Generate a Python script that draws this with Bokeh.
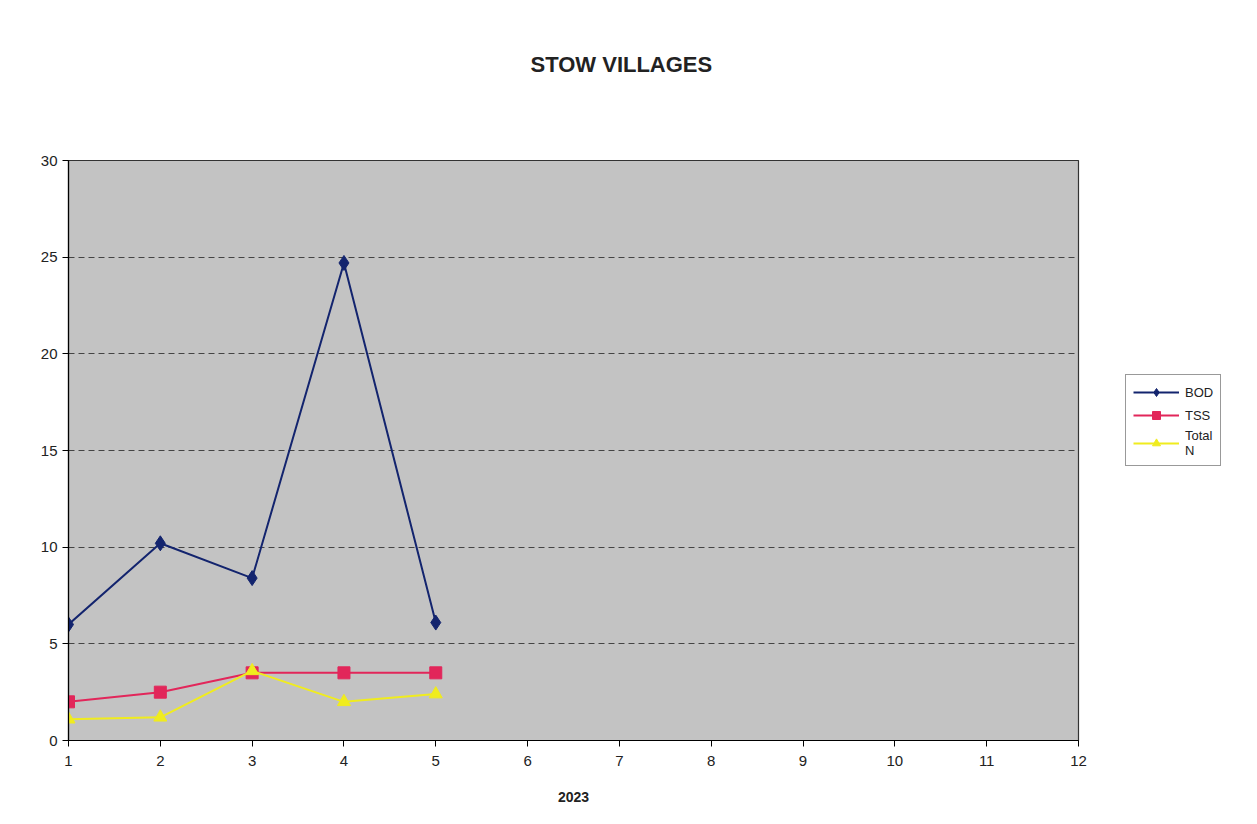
from bokeh.plotting import figure
from bokeh.models import Legend, LegendItem, FixedTicker, Range1d
from bokeh.embed import file_html
from bokeh.resources import INLINE

months = [1, 2, 3, 4, 5]
bod = [6.0, 10.2, 8.4, 24.7, 6.1]
tss = [2.0, 2.5, 3.5, 3.5, 3.5]
total_n = [1.1, 1.2, 3.6, 2.0, 2.4]
x_ticks = list(range(1, 13))
y_ticks = [0, 5, 10, 15, 20, 25, 30]

p = figure(frame_width=1010, frame_height=580, output_backend="svg", toolbar_location=None,
           x_range=Range1d(1, 12), y_range=Range1d(0, 30),
           min_border_left=68, min_border_top=160, min_border_bottom=76,
           min_border_right=0)
# trailing blank lines lift the title well above the plot frame
p.title.text = "STOW VILLAGES\n \n \n "
p.title.align = "left"
p.title.offset = 462
p.title.text_font = "Liberation Sans"
p.title.text_font_size = "22px"
p.title.text_font_style = "bold"
p.title.text_color = "#222222"
p.title.standoff = 18

p.background_fill_color = "#c3c3c3"
p.border_fill_color = "white"
p.outline_line_color = "#333333"
p.outline_line_width = 1.2

p.xgrid.visible = False
p.ygrid.grid_line_color = "#444444"
p.ygrid.grid_line_dash = "6 4"
p.ygrid.grid_line_width = 1.2
p.ygrid.ticker = FixedTicker(ticks=y_ticks)

p.xaxis.ticker = FixedTicker(ticks=x_ticks)
p.yaxis.ticker = FixedTicker(ticks=y_ticks)
for ax in (p.xaxis[0], p.yaxis[0]):
    ax.axis_line_color = "black"
    ax.axis_line_width = 1.2
    ax.major_tick_line_color = "black"
    ax.major_tick_in = 0
    ax.major_tick_out = 6
    ax.minor_tick_line_color = None
    ax.major_label_text_font = "Liberation Sans"
    ax.major_label_text_font_size = "15px"
    ax.major_label_text_color = "#222222"
p.xaxis.major_label_standoff = 9
p.xaxis.axis_label = "2023"
p.xaxis.axis_label_text_font = "Liberation Sans"
p.xaxis.axis_label_text_font_size = "14px"
p.xaxis.axis_label_text_font_style = "bold"
p.xaxis.axis_label_text_color = "#222222"
p.xaxis.axis_label_standoff = 23

l1 = p.line(months, bod, line_color="#13246e", line_width=2)
m1 = p.scatter(months, bod, marker="diamond", size=15, fill_color="#13246e", line_color="#13246e")
l2 = p.line(months, tss, line_color="#e2265a", line_width=2)
m2 = p.scatter(months, tss, marker="square", size=12, fill_color="#e2265a", line_color="#e2265a")
l3 = p.line(months, total_n, line_color="#f0ec1e", line_width=2)
m3 = p.scatter(months, total_n, marker="triangle", size=13, fill_color="#f0ec1e", line_color="#f0ec1e")

legend = Legend(items=[
    LegendItem(label="BOD", renderers=[l1, m1]),
    LegendItem(label="TSS", renderers=[l2, m2]),
    LegendItem(label="Total\nN", renderers=[l3, m3]),
], location=(47, 274))
legend.border_line_color = "#333333"
legend.border_line_width = 1.2
legend.background_fill_color = "white"
legend.label_text_font = "Liberation Sans"
legend.label_text_font_size = "13px"
legend.label_text_line_height = 1.4
legend.label_text_color = "#222222"
legend.glyph_width = 46
legend.label_standoff = 6
legend.spacing = 3
legend.padding = 7
legend.margin = 0
p.add_layout(legend, "right")

open("out.html", "w").write(file_html(p, INLINE))
